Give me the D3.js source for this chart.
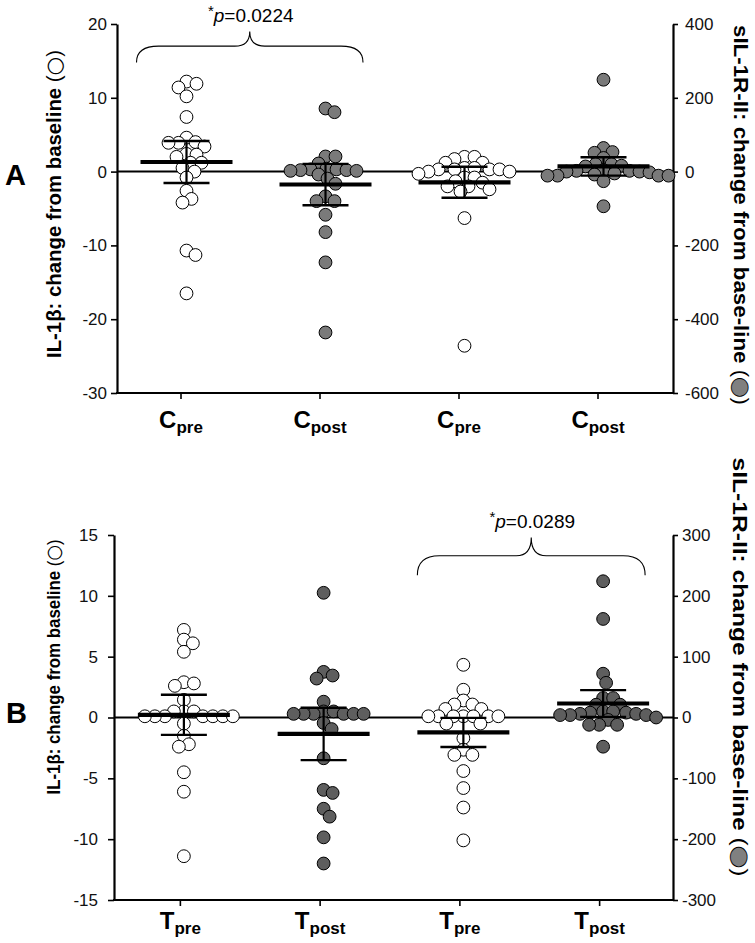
<!DOCTYPE html>
<html><head><meta charset="utf-8">
<script src="https://cdn.jsdelivr.net/npm/d3@7"></script>
<style>
body{margin:0;background:#fff}
text{font-family:"Liberation Sans",Arial,Helvetica,sans-serif}
</style>
</head><body>
<svg id="chart" width="755" height="943"></svg>
<script>
// ---------------- DATA ----------------
// open circles = IL-1β (left axis), filled circles = sIL-1R-II (right axis)
const kinds = ["open", "filled", "open", "filled"];
const catLettersA = ["C", "C", "C", "C"];
const catLettersB = ["T", "T", "T", "T"];
const catSubs = ["pre", "post", "pre", "post"];

// Panel A
const aPreIL = [12.2, 11.4, 10.2, 11.9, 7.4, 4.6, 3.4, 3.9, 3.9, 4.0, 2.3, 2.0, 2.4, 1.2, 1.2, 0.0, 0.5, -0.8, -2.6, -4.2, -3.7, -10.7, -11.3, -16.5];
const aPostR = [171, 161, 41, 41, 22, 8, 4, 6, 2, 4, 2, 6, -8, -19, -33, -67, -80, -80, -117, -164, -246, -436];
const aPreIL2 = [2.0, 2.0, 1.7, 1.2, 1.2, 0.5, 0.5, 0.3, 0.3, 0.3, 0.3, 0.0, 0.0, -0.3, -0.8, -0.8, -1.3, -1.5, -2.0, -2.0, -2.4, -2.7, -6.3, -23.6];
const aPostR2 = [249, 64, 53, 51, 37, 20, 20, 16, 14, 4, 2, 0, -2, 2, 0, -5, -8, -11, -11, -11, -11, -26, -94];
const aMeans = [1.3, -35, -1.45, 14];
const aErrs = [2.85, 56, 2.1, 25];
const aLeftTicks = [-30, -20, -10, 0, 10, 20];
const aRightTicks = [-600, -400, -200, 0, 200, 400];
const aP = "0.0224";

// Panel B
const bPreIL = [7.2, 6.4, 6.1, 5.4, 2.9, 2.8, 2.6, 1.45, 0.5, 0.5, 0.5, 0.1, 0.1, 0.1, 0.1, 0.1, 0.1, 0.1, -0.5, -1.5, -2.2, -2.4, -4.5, -6.1, -11.4];
const bPostR = [205, 75, 69, 64, 26, 10, 6, 6, 6, 6, 6, 6, 10, -9, -19, -67, -119, -124, -150, -163, -197, -240];
const bPreIL2 = [4.33, 2.28, 1.4, 1.07, 1.07, 0.7, 0.7, 0.1, 0.1, 0.1, 0.1, 0.1, 0.1, 0.1, -0.5, -0.5, -1.7, -2.65, -3.07, -3.07, -4.4, -5.8, -7.4, -10.1];
const bPostR2 = [224, 162, 72, 57, 32, 32, 21, 21, 10, 4, 4, 6, 8, 6, 4, 8, 10, 0, -4, -12, -12, -12, -48];
const bMeans = [0.22, -27, -1.23, 23];
const bErrs = [1.65, 43, 1.2, 22];
const bLeftTicks = [-15, -10, -5, 0, 5, 10, 15];
const bRightTicks = [-300, -200, -100, 0, 100, 200, 300];
const bP = "0.0289";

// ---------------- DRAW ----------------
const svg = d3.select("#chart");

function dodge(vals, yScale, D) {
  const pts = vals.map(v => ({ v, y: yScale(v) })).sort((a, b) => a.y - b.y);
  const placed = [];
  pts.forEach(pt => {
    let best = null;
    for (let k = 0; k < 300 && best === null; k++) {
      const cands = k === 0 ? [0] : [k, -k];
      for (const dx of cands) {
        if (placed.every(q => (q.dx - dx) ** 2 + (q.y - pt.y) ** 2 >= D * D)) { best = dx; break; }
      }
    }
    pt.dx = best; placed.push(pt);
  });
  return pts;
}

function drawPanel(p) {
  const g = svg.append("g");
  const x = d3.scaleBand().domain(d3.range(4)).range([p.left, p.right]);
  const bw = x.bandwidth();
  const cx = i => x(i) + bw / 2;
  const yL = d3.scaleLinear().domain(p.leftDomain).range([p.bottom, p.top]);
  const yR = d3.scaleLinear().domain(p.rightDomain).range([p.bottom, p.top]);
  const yFor = i => kinds[i] === "open" ? yL : yR;
  const fmt = d => String(d);

  // zero line
  g.append("line").attr("x1", p.left).attr("x2", p.right)
    .attr("y1", yL(0)).attr("y2", yL(0)).attr("stroke", "#000").attr("stroke-width", 2);

  // left axis
  const gl = g.append("g").attr("transform", `translate(${p.left},0)`)
    .call(d3.axisLeft(yL).tickValues(p.leftTicks).tickFormat(fmt).tickSize(6).tickSizeOuter(0).tickPadding(p.lPad));
  // right axis
  const gr = g.append("g").attr("transform", `translate(${p.right},0)`)
    .call(d3.axisRight(yR).tickValues(p.rightTicks).tickFormat(fmt).tickSize(5).tickSizeOuter(0).tickPadding(p.rPad));
  [gl, gr].forEach(a => {
    a.select(".domain").attr("stroke-width", 2.2);
    a.selectAll(".tick line").attr("stroke-width", 1.6);
    a.selectAll(".tick text").attr("font-size", 17).attr("font-family", '"Liberation Sans",Arial,sans-serif').attr("fill", "#111");
  });

  // bottom axis
  g.append("line").attr("x1", p.left - 1).attr("x2", p.right + 1)
    .attr("y1", p.bottom).attr("y2", p.bottom).attr("stroke", "#000").attr("stroke-width", 2.2);
  const xt = d3.scaleBand().domain(d3.range(4)).range([p.left + p.tickShift, p.right + p.tickShift]);
  const gb = g.append("g").attr("transform", `translate(0,${p.bottom})`)
    .call(d3.axisBottom(xt).tickSize(6).tickSizeOuter(0).tickFormat(""));
  gb.select(".domain").remove();
  gb.selectAll(".tick line").attr("stroke-width", 1.6);
  d3.range(4).forEach(i => {
    const t = g.append("text").attr("x", xt(i) + xt.bandwidth() / 2).attr("y", p.bottom + p.labDy)
      .attr("text-anchor", "middle").attr("font-weight", "bold");
    t.append("tspan").attr("font-size", 24).text(p.letters[i]);
    t.append("tspan").attr("font-size", 17).attr("dy", 5).text(catSubs[i]);
  });

  // points
  p.series.forEach((vals, i) => {
    const ys = yFor(i);
    const pts = dodge(vals, ys, 9.5);
    g.append("g").selectAll("circle").data(pts).join("circle")
      .attr("cx", d => cx(i) + d.dx).attr("cy", d => d.y).attr("r", 6.4)
      .attr("fill", kinds[i] === "open" ? "#fff" : p.fill)
      .attr("stroke", "#000").attr("stroke-width", 1);
  });

  // mean and error bars
  p.means.forEach((m, i) => {
    const ys = yFor(i), e = p.errs[i], c = cx(i);
    g.append("line").attr("x1", c).attr("x2", c).attr("y1", ys(m - e)).attr("y2", ys(m + e))
      .attr("stroke", "#000").attr("stroke-width", 2.2);
    [m - e, m + e].forEach(v => g.append("line").attr("x1", c - 23).attr("x2", c + 23)
      .attr("y1", ys(v)).attr("y2", ys(v)).attr("stroke", "#000").attr("stroke-width", 2.4));
    g.append("line").attr("x1", c - 46).attr("x2", c + 46).attr("y1", ys(m)).attr("y2", ys(m))
      .attr("stroke", "#000").attr("stroke-width", 4.2);
  });

  // brace
  const [i0, i1] = p.brace;
  const x1 = cx(i0) + p.braceIn[0], x2 = cx(i1) + p.braceIn[1];
  const tx = (x1 + x2) / 2;
  const yE = yL(p.braceY[0]), yH = yL(p.braceY[1]), yT = yL(p.braceY[2]);
  const r = 22, r2 = 15;
  g.append("path").attr("fill", "none").attr("stroke", "#000").attr("stroke-width", 1.1)
    .attr("d", `M${x1},${yE} Q${x1},${yH} ${x1 + r},${yH} L${tx - r2},${yH} Q${tx},${yH} ${tx},${yT} Q${tx},${yH} ${tx + r2},${yH} L${x2 - r},${yH} Q${x2},${yH} ${x2},${yE}`);
  const pt = g.append("text").attr("x", tx + 1).attr("y", yT - 9).attr("text-anchor", "middle").attr("font-size", 19);
  pt.append("tspan").attr("font-size", 15).attr("dy", -6).text("*");
  pt.append("tspan").attr("font-style", "italic").attr("dy", 6).text("p");
  pt.append("tspan").text("=" + p.pval);

  // panel letter
  g.append("text").attr("x", p.letterX).attr("y", p.letterY).attr("font-size", 29).attr("font-weight", "bold").text(p.panel);

  // left title
  const lt = g.append("text").attr("transform", `translate(${p.ltX},${p.ltY}) rotate(-90)`)
    .attr("text-anchor", "middle").attr("font-size", p.ltSize).attr("font-weight", "bold")
    .attr("textLength", p.ltLen).attr("lengthAdjust", "spacingAndGlyphs");
  lt.append("tspan").text("IL-1β: change from baseline ");
  lt.append("tspan").attr("font-weight", "normal").text("(");
  lt.append("tspan").attr("font-weight", "normal").attr("font-family", '"DejaVu Sans",sans-serif')
    .attr("font-size", p.ltSize * 1.05).text("○");
  lt.append("tspan").attr("font-weight", "normal").text(")");
  // right title
  const rt = g.append("text").attr("transform", `translate(${p.rtX},${p.rtY}) rotate(90)`)
    .attr("text-anchor", "middle").attr("font-size", 21).attr("font-weight", "bold")
    .attr("textLength", p.rtLen).attr("lengthAdjust", "spacingAndGlyphs");
  rt.append("tspan").text("sIL-1R-II: change from base-line ");
  rt.append("tspan").attr("font-weight", "normal").text("(");
  rt.append("tspan").attr("font-weight", "normal").attr("font-family", '"DejaVu Sans",sans-serif')
    .attr("font-size", 22).attr("fill", "#808080").attr("stroke", "#000").attr("stroke-width", 0.8).text("●");
  rt.append("tspan").attr("font-weight", "normal").text(")");
}

drawPanel({
  panel: "A", letterX: 5, letterY: 185,
  left: 117, right: 673, top: 24, bottom: 393, tickShift: -5.5, labDy: 35,
  leftDomain: [-30, 20], rightDomain: [-600, 400],
  leftTicks: aLeftTicks, rightTicks: aRightTicks, lPad: 4, rPad: 7,
  letters: catLettersA, series: [aPreIL, aPostR, aPreIL2, aPostR2],
  means: aMeans, errs: aErrs, fill: "#7a7a7a",
  brace: [0, 1], braceIn: [-50, 37.5], braceY: [14.8, 17.0, 19.0], pval: aP,
  ltX: 61, ltY: 204, ltSize: 20, ltLen: 308, rtX: 734, rtY: 215, rtLen: 380
});
drawPanel({
  panel: "B", letterX: 6, letterY: 723,
  left: 114, right: 673, top: 535, bottom: 900, tickShift: -3.5, labDy: 29,
  leftDomain: [-15, 15], rightDomain: [-300, 300],
  leftTicks: bLeftTicks, rightTicks: bRightTicks, lPad: 10, rPad: 4,
  letters: catLettersB, series: [bPreIL, bPostR, bPreIL2, bPostR2],
  means: bMeans, errs: bErrs, fill: "#5e5e5e",
  brace: [2, 3], braceIn: [-46, 42], braceY: [11.7, 13.3, 14.8], pval: bP,
  ltX: 60, ltY: 667, ltSize: 18.5, ltLen: 255, rtX: 733, rtY: 667, rtLen: 419
});
</script>
</body></html>
